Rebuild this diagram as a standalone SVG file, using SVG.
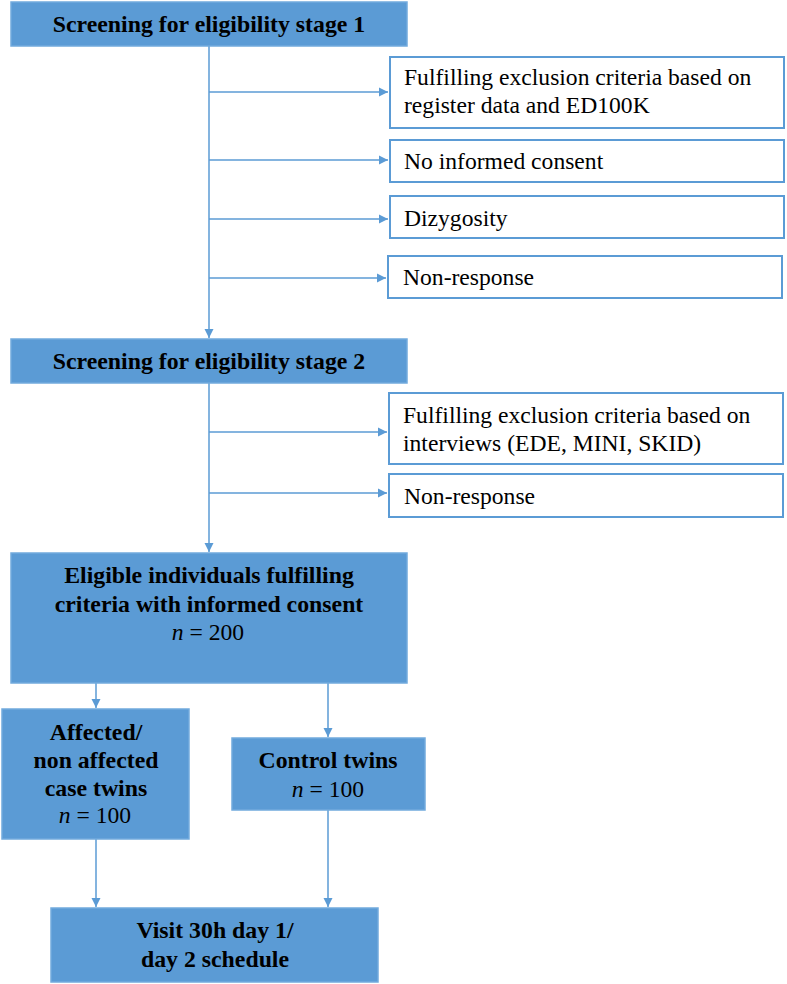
<svg xmlns="http://www.w3.org/2000/svg" width="787" height="984" viewBox="0 0 787 984">
<style>
.blue{fill:#5B9BD5;stroke:#72AADD;stroke-width:1.5}
.excl{fill:#FFFFFF;stroke:#5B9BD5;stroke-width:2}
.tb{font-family:"Liberation Serif","Times New Roman",serif;font-weight:bold;font-size:23.8px;fill:#000;text-anchor:middle}
.tn{font-family:"Liberation Serif","Times New Roman",serif;font-size:23.6px;fill:#000}
.tc{font-family:"Liberation Serif","Times New Roman",serif;font-size:23.6px;fill:#000;text-anchor:middle}
.conn{stroke:#5B9BD5;stroke-width:1.5;fill:none}
</style>
<defs>
<marker id="ah" markerUnits="userSpaceOnUse" markerWidth="10" markerHeight="10" refX="9" refY="5" orient="auto">
<path d="M0,0.5 L9,5 L0,9.5 Z" fill="#5B9BD5"/>
</marker>
</defs>
<rect width="787" height="984" fill="#FFFFFF"/>
<g id="connectors">
<line class="conn" x1="209" y1="46" x2="209" y2="338" marker-end="url(#ah)"/>
<line class="conn" x1="209" y1="92" x2="388" y2="92" marker-end="url(#ah)"/>
<line class="conn" x1="209" y1="160" x2="388" y2="160" marker-end="url(#ah)"/>
<line class="conn" x1="209" y1="219" x2="388" y2="219" marker-end="url(#ah)"/>
<line class="conn" x1="209" y1="278" x2="386" y2="278" marker-end="url(#ah)"/>
<line class="conn" x1="209" y1="383" x2="209" y2="552" marker-end="url(#ah)"/>
<line class="conn" x1="209" y1="432" x2="387" y2="432" marker-end="url(#ah)"/>
<line class="conn" x1="209" y1="493" x2="387" y2="493" marker-end="url(#ah)"/>
<line class="conn" x1="96" y1="683" x2="96" y2="708" marker-end="url(#ah)"/>
<line class="conn" x1="328" y1="683" x2="328" y2="737" marker-end="url(#ah)"/>
<line class="conn" x1="96" y1="839" x2="96" y2="907" marker-end="url(#ah)"/>
<line class="conn" x1="328" y1="810" x2="328" y2="907" marker-end="url(#ah)"/>
</g>
<g id="stage1">
<rect class="blue" x="11" y="2" width="396" height="44"/>
<text class="tb" x="209" y="32">Screening for eligibility stage 1</text>
</g>
<g id="excl1">
<rect class="excl" x="390" y="57" width="394" height="71"/>
<text class="tn" x="404" y="85">Fulfilling exclusion criteria based on</text>
<text class="tn" x="404" y="113">register data and ED100K</text>
</g>
<g id="excl2">
<rect class="excl" x="390" y="140" width="394" height="42"/>
<text class="tn" x="404" y="169">No informed consent</text>
</g>
<g id="excl3">
<rect class="excl" x="390" y="196" width="394" height="42"/>
<text class="tn" x="404" y="226">Dizygosity</text>
</g>
<g id="excl4">
<rect class="excl" x="388" y="256" width="394" height="42"/>
<text class="tn" x="403" y="285">Non-response</text>
</g>
<g id="stage2">
<rect class="blue" x="11" y="339" width="396" height="44"/>
<text class="tb" x="209" y="369">Screening for eligibility stage 2</text>
</g>
<g id="excl5">
<rect class="excl" x="389" y="393" width="394" height="71"/>
<text class="tn" x="403" y="423">Fulfilling exclusion criteria based on</text>
<text class="tn" x="403" y="451">interviews (EDE, MINI, SKID)</text>
</g>
<g id="excl6">
<rect class="excl" x="389" y="474" width="394" height="43"/>
<text class="tn" x="404" y="504">Non-response</text>
</g>
<g id="eligible">
<rect class="blue" x="11" y="553" width="396" height="130"/>
<text class="tb" x="209" y="583">Eligible individuals fulfilling</text>
<text class="tb" x="209" y="612">criteria with informed consent</text>
<text class="tc" x="208" y="640"><tspan font-style="italic">n</tspan> = 200</text>
</g>
<g id="cases">
<rect class="blue" x="2" y="709" width="187" height="130"/>
<text class="tb" x="96" y="740">Affected/</text>
<text class="tb" x="96" y="768">non affected</text>
<text class="tb" x="96" y="796">case twins</text>
<text class="tc" x="95" y="823"><tspan font-style="italic">n</tspan> = 100</text>
</g>
<g id="controls">
<rect class="blue" x="232" y="738" width="193" height="72"/>
<text class="tb" x="328" y="768">Control twins</text>
<text class="tc" x="328" y="797"><tspan font-style="italic">n</tspan> = 100</text>
</g>
<g id="visit">
<rect class="blue" x="51" y="908" width="327" height="74"/>
<text class="tb" x="215" y="938">Visit 30h day 1/</text>
<text class="tb" x="215" y="967">day 2 schedule</text>
</g>
</svg>
